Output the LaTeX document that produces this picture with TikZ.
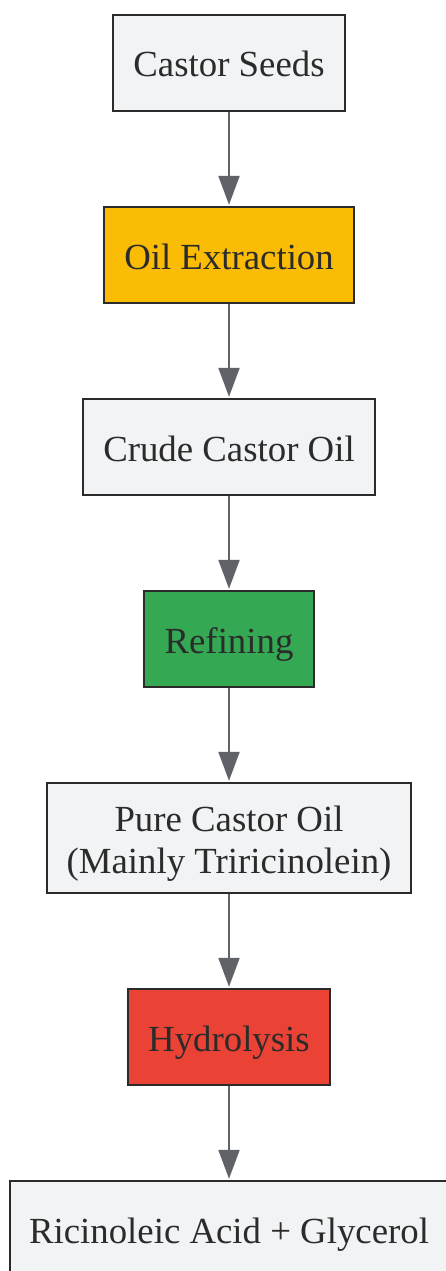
\documentclass[tikz,border=0pt]{standalone}
\usepackage{fontspec}
\setmainfont{Liberation Serif}
\usetikzlibrary{arrows.meta}
\definecolor{boxgray}{HTML}{F1F3F4}
\definecolor{boxline}{HTML}{2B2B2B}
\definecolor{arrowgray}{HTML}{5F6368}
\definecolor{gyellow}{HTML}{FBBC05}
\definecolor{ggreen}{HTML}{34A853}
\definecolor{gred}{HTML}{EA4335}
\tikzset{
  stepbox/.style={draw=boxline, line width=2.4pt, fill=boxgray, inner sep=0pt,
    minimum height=96pt, align=center, text=boxline,
    text height=33pt, text depth=5pt,
    font=\fontsize{36.8pt}{42pt}\selectfont},
  flow/.style={draw=arrowgray, line width=2.2pt, -{Triangle[length=29pt,width=21pt]}, shorten >=1pt}
}
\begin{document}
\begin{tikzpicture}[x=1pt,y=1pt]
\useasboundingbox (0,0) rectangle (445,-1271);
\node[stepbox, minimum width=232pt] (a) at (229,-63) {Castor Seeds};
\node[stepbox, minimum width=250pt, fill=gyellow] (b) at (229,-255) {Oil Extraction};
\node[stepbox, minimum width=292pt] (c) at (229,-447) {Crude Castor Oil};
\node[stepbox, minimum width=170pt, fill=ggreen] (d) at (229,-639) {Refining};
\node[stepbox, minimum width=364pt, minimum height=110pt, text height=75pt] (e) at (229,-838) {Pure Castor Oil\\(Mainly Triricinolein)};
\node[stepbox, minimum width=202pt, fill=gred] (f) at (229,-1037) {Hydrolysis};
\node[stepbox, minimum width=438pt] (g) at (229,-1229) {Ricinoleic Acid + Glycerol};
\draw[flow] (a) -- (b);
\draw[flow] (b) -- (c);
\draw[flow] (c) -- (d);
\draw[flow] (d) -- (e);
\draw[flow] (e) -- (f);
\draw[flow] (f) -- (g);
\end{tikzpicture}
\end{document}
